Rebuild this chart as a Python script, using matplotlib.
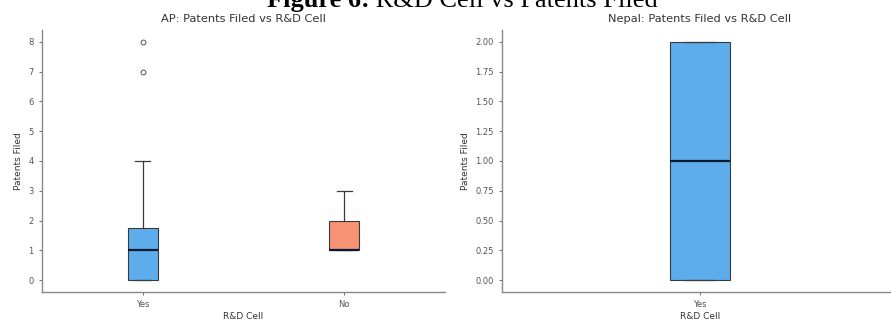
import matplotlib
matplotlib.use("Agg")
import matplotlib.pyplot as plt

# ---------------------------
# data (box stats)
# ---------------------------
ap_groups = ["Yes", "No"]
ap_q1 = [0, 1]
ap_med = [1, 1]
ap_q3 = [1.75, 2]
ap_lo = [0, 1]
ap_hi = [4, 3]
ap_fliers = [[7, 8], []]
ap_colors = ["#5DADEC", "#F79274"]

np_groups = ["Yes"]
np_q1 = [0]
np_med = [1]
np_q3 = [2]
np_lo = [0]
np_hi = [2]
np_fliers = [[]]
np_colors = ["#5DADEC"]


def make_stats(groups, q1, med, q3, lo, hi, fliers):
    stats = []
    for i, g in enumerate(groups):
        stats.append(dict(label=g, q1=q1[i], med=med[i], q3=q3[i],
                          whislo=lo[i], whishi=hi[i], fliers=fliers[i]))
    return stats


def draw_box(ax, stats, colors, title):
    pos = list(range(len(stats)))
    bp = ax.bxp(stats, positions=pos, widths=0.15, patch_artist=True,
                showfliers=True,
                boxprops=dict(edgecolor="#3a3a3a", linewidth=0.8),
                medianprops=dict(color="#0b1a33", linewidth=1.6),
                whiskerprops=dict(color="#3a3a3a", linewidth=0.9),
                capprops=dict(color="#3a3a3a", linewidth=0.9),
                flierprops=dict(marker="o", markersize=3.5,
                                markerfacecolor="none",
                                markeredgecolor="#555555",
                                markeredgewidth=0.7))
    for patch, c in zip(bp["boxes"], colors):
        patch.set_facecolor(c)
    ax.set_xlim(-0.5, len(stats) - 0.5)
    ax.set_xticks(pos)
    ax.set_xticklabels([s["label"] for s in stats])
    ax.set_title(title, fontsize=8.2, color="#333333", pad=6)
    ax.set_xlabel("R&D Cell", fontsize=6.5, color="#333333", labelpad=2)
    ax.set_ylabel("Patents Filed", fontsize=6.5, color="#333333", labelpad=4)
    ax.tick_params(labelsize=6, colors="#555555", length=2.5, width=0.6)
    for side in ["top", "right"]:
        ax.spines[side].set_visible(False)
    for side in ["left", "bottom"]:
        ax.spines[side].set_color("#888888")
        ax.spines[side].set_linewidth(1.0)


fig = plt.figure(figsize=(8.91, 3.20), dpi=100)

ax1 = fig.add_axes([0.0471, 0.0875, 0.4523, 0.819])
draw_box(ax1, make_stats(ap_groups, ap_q1, ap_med, ap_q3, ap_lo, ap_hi, ap_fliers),
         ap_colors, "AP: Patents Filed vs R&D Cell")
ax1.set_ylim(-0.4, 8.4)
ax1.set_yticks(range(0, 9))

ax2 = fig.add_axes([0.5634, 0.0875, 0.4444, 0.819])
draw_box(ax2, make_stats(np_groups, np_q1, np_med, np_q3, np_lo, np_hi, np_fliers),
         np_colors, "Nepal: Patents Filed vs R&D Cell")
ax2.set_ylim(-0.1, 2.1)
ax2.set_yticks([0, 0.25, 0.5, 0.75, 1.0, 1.25, 1.5, 1.75, 2.0])
ax2.set_yticklabels(["0.00", "0.25", "0.50", "0.75", "1.00", "1.25", "1.50", "1.75", "2.00"])

# figure caption: bold "Figure 6:" followed by regular text, top cut off like the source
cap_y = 0.978
t1 = fig.text(0.5, cap_y, "Figure 6:", fontsize=19, fontweight="bold",
              family="Liberation Serif", ha="left", va="baseline")
t2 = fig.text(0.5, cap_y, " R&D Cell vs Patents Filed", fontsize=19,
              family="Liberation Serif", ha="left", va="baseline")
fig.canvas.draw()
r = fig.canvas.get_renderer()
w1 = t1.get_window_extent(r).width / fig.bbox.width
w2 = t2.get_window_extent(r).width / fig.bbox.width
x0 = 0.519 - (w1 + w2) / 2
t1.set_x(x0)
t2.set_x(x0 + w1)

fig.savefig("out.png", dpi=100)
